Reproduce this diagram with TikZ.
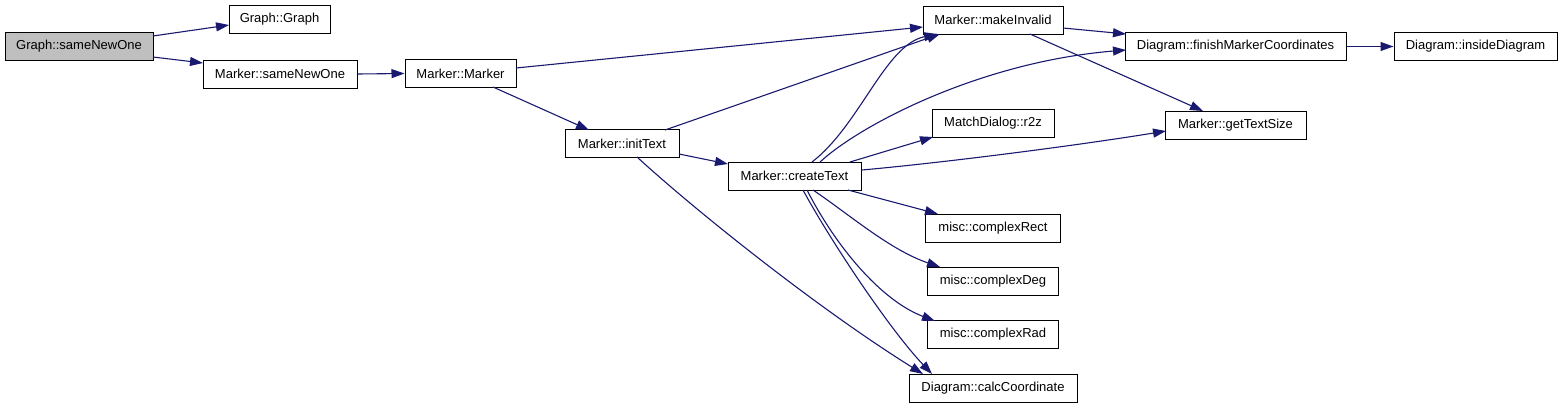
\documentclass[tikz,border=0pt]{standalone}
\usepackage{fontspec}
\setmainfont{Liberation Sans}
\usetikzlibrary{arrows.meta,calc}
\definecolor{edgec}{HTML}{191970}
\definecolor{grayfill}{HTML}{BFBFBF}
\begin{document}
\begin{tikzpicture}[x=1pt,y=-1pt,
  fn/.style={draw=black,line width=1pt,fill=white,inner sep=0pt,minimum height=28pt,
    font=\fontsize{13}{15}\selectfont,anchor=center},
  ed/.style={draw=edgec,line width=1.1pt,-{Triangle[length=13pt,width=9pt]}}]
\useasboundingbox (0,0) rectangle (1563,408);
% nodes
\node[fn,fill=grayfill,minimum width=148pt] (GsNO) at (79,46.5) {Graph::sameNewOne};
\node[fn,minimum width=101pt] (GG) at (279.5,19) {Graph::Graph};
\node[fn,minimum width=154pt] (MsNO) at (280,74) {Marker::sameNewOne};
\node[fn,minimum width=111pt] (MM) at (460.5,73.5) {Marker::Marker};
\node[fn,minimum width=140pt] (MmI) at (993,20) {Marker::makeInvalid};
\node[fn,minimum width=221pt] (DfMC) at (1235.5,46.5) {Diagram::finishMarkerCoordinates};
\node[fn,minimum width=163pt] (DiD) at (1475.5,46.5) {Diagram::insideDiagram};
\node[fn,minimum width=114pt] (MiT) at (622,143.5) {Marker::initText};
\node[fn,minimum width=133pt] (McT) at (794.5,176) {Marker::createText};
\node[fn,minimum width=122pt] (MDr) at (993,123.5) {MatchDialog::r2z};
\node[fn,minimum width=141pt] (MgTS) at (1235.5,125) {Marker::getTextSize};
\node[fn,minimum width=135pt] (mcR) at (993,228) {misc::complexRect};
\node[fn,minimum width=131pt] (mcD) at (993,281) {misc::complexDeg};
\node[fn,minimum width=131pt] (mcRad) at (993,334.5) {misc::complexRad};
\node[fn,minimum width=168pt] (DcC) at (993,388) {Diagram::calcCoordinate};
% edges
\draw[ed] ($(GsNO.center)+(74,-10.5)$) -- ($(GG.center)+(-50.5,6)$);
\draw[ed] ($(GsNO.center)+(74,10.5)$) -- ($(MsNO.center)+(-77,-11)$);
\draw[ed] (MsNO.east) -- (MM.west);
\draw[ed] ($(MM.center)+(55.5,-5.5)$) -- ($(MmI.center)+(-70,7)$);
\draw[ed] ($(MM.center)+(32.5,13.5)$) -- ($(MiT.center)+(-33,-13.5)$);
\draw[ed] ($(MiT.center)+(43,-13.5)$) -- ($(MmI.center)+(-53,14)$);
\draw[ed] ($(MiT.center)+(57,10.5)$) -- ($(McT.center)+(-66.5,-12)$);
\draw[ed] ($(MiT.center)+(15,13.5)$) .. controls (697,212) and (820,310) .. ($(DcC.center)+(-70,-14)$);
\draw[ed] ($(McT.center)+(17.5,-14)$) .. controls (860,125) and (885,45) .. ($(MmI.center)+(-56,14)$);
\draw[ed] ($(McT.center)+(25.5,-14)$) .. controls (860,125) and (980,62) .. ($(DfMC.center)+(-109.5,3.5)$);
\draw[ed] ($(McT.center)+(55.5,-14)$) -- ($(MDr.center)+(-60,13.5)$);
\draw[ed] ($(McT.center)+(67.5,-6)$) .. controls (950,162) and (1080,145) .. ($(MgTS.center)+(-69.5,6)$);
\draw[ed] ($(McT.center)+(53.5,14)$) -- ($(mcR.center)+(-55,-14)$);
\draw[ed] ($(McT.center)+(18.5,14)$) .. controls (850,215) and (890,250) .. ($(mcD.center)+(-53,-14)$);
\draw[ed] ($(McT.center)+(12.5,14)$) .. controls (835,245) and (880,300) .. ($(mcRad.center)+(-58,-13.5)$);
\draw[ed] ($(McT.center)+(8.5,14)$) .. controls (830,240) and (890,330) .. ($(DcC.center)+(-61,-14)$);
\draw[ed] ($(MmI.center)+(70,8)$) -- ($(DfMC.center)+(-109.5,-12.5)$);
\draw[ed] ($(MmI.center)+(37,14)$) -- ($(MgTS.center)+(-32.5,-14)$);
\draw[ed] (DfMC.east) -- (DiD.west);
\end{tikzpicture}
\end{document}
